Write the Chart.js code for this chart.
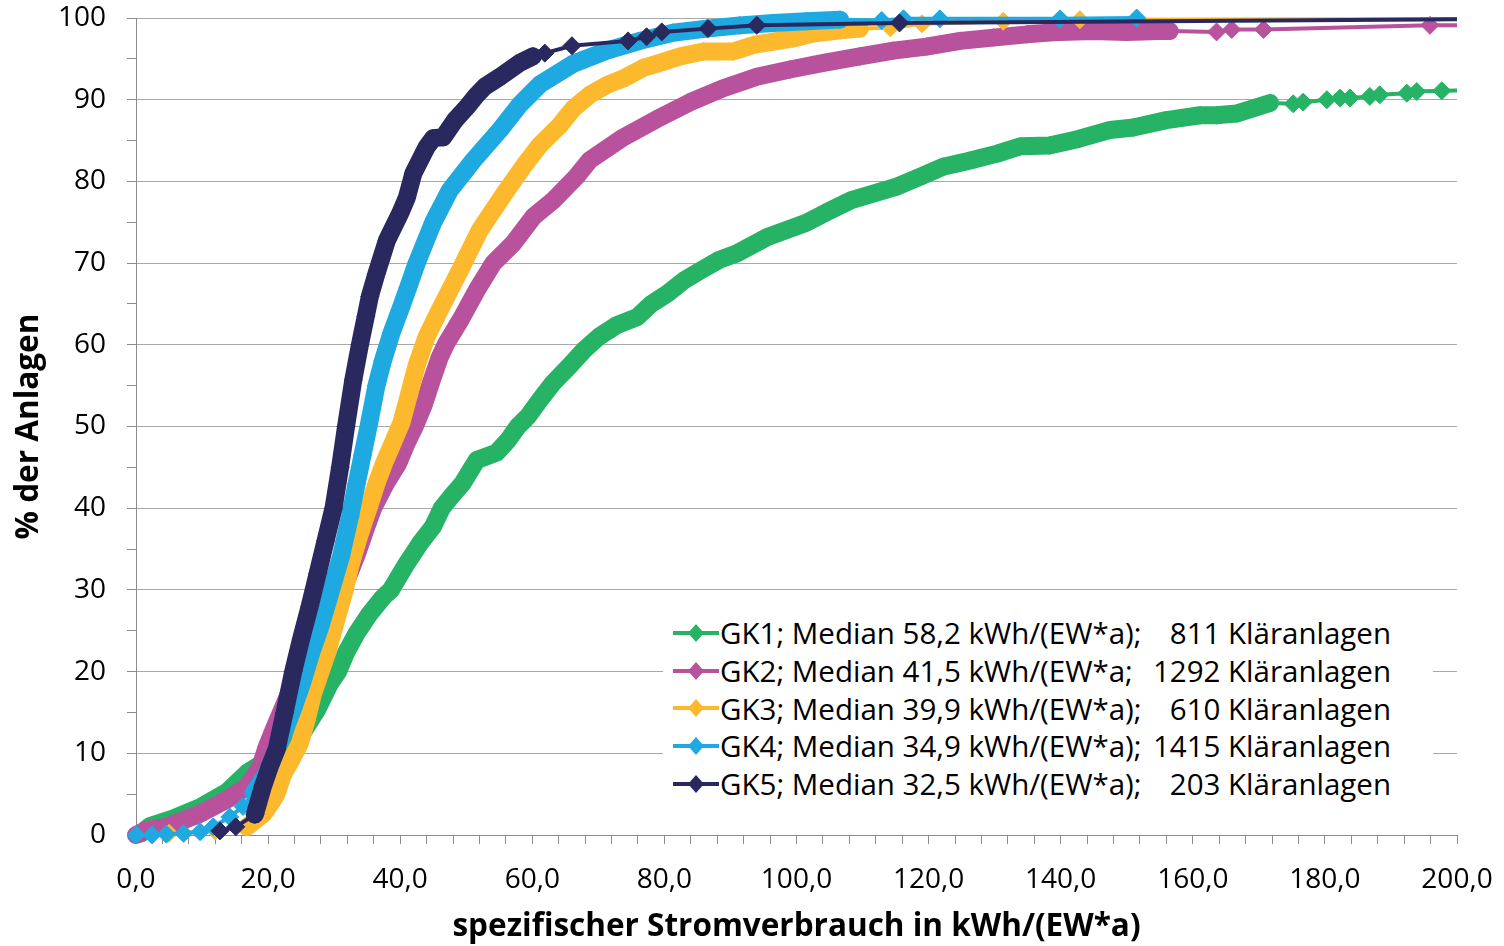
<!DOCTYPE html>
<html lang="de">
<head>
<meta charset="utf-8">
<title>Spezifischer Stromverbrauch</title>
<script src="https://cdn.jsdelivr.net/npm/chart.js@4.4.1/dist/chart.umd.min.js"></script>
<style>
  body { margin: 0; background: #fff; }
  #wrap { position: relative; width: 1504px; height: 946px; }
  #legend {
    position: absolute; left: 663px; top: 605px; width: 770px; height: 200px;
    background: #fff; box-sizing: border-box; padding: 9px 42px 0 0;
    font-family: "Open Sans", sans-serif; font-size: 29.5px; color: #000;
  }
  .row { display: flex; align-items: center; height: 37.7px; white-space: nowrap; }
  .row svg { margin-left: 10px; margin-right: 1px; flex: none; }
  .count { margin-left: auto; }
</style>
</head>
<body>
<div id="wrap">
  <canvas id="chart" width="1504" height="946"></canvas>
  <div id="legend"></div>
</div>
<script>
// cumulative share of plants [%] over specific consumption [kWh/(EW*a)]
const gk1 = [
  [0.8, 0.2], [2.1, 1.1], [5.6, 2.0], [9.7, 3.4], [13.8, 5.3], [16.8, 7.6], [20.5, 9.5],
  [23.8, 11.2], [25.3, 12.6], [27.4, 15.3], [29.4, 18.6], [30.6, 20.0], [31.8, 22.3],
  [33.4, 24.7], [35.4, 27.1], [37.4, 29.1], [38.6, 30.0], [40.8, 33.0], [43.0, 35.7],
  [45.0, 37.8], [46.3, 40.0], [47.8, 41.5], [49.4, 43.0], [51.6, 45.9], [54.6, 46.8],
  [56.3, 48.3], [57.8, 50.0], [59.3, 51.2], [61.2, 53.3], [63.1, 55.3], [65.5, 57.3],
  [68.0, 59.5], [70.1, 61.0], [72.8, 62.4], [75.9, 63.4], [78.0, 65.0], [80.5, 66.3],
  [83.0, 67.9], [85.7, 69.2], [88.3, 70.4], [91.0, 71.2], [95.6, 73.2], [101.4, 74.9],
  [104.5, 76.2], [108.3, 77.7], [115.3, 79.4], [118.8, 80.6], [122.2, 81.8], [126.0, 82.5],
  [130.4, 83.4], [133.9, 84.3], [138.3, 84.4], [142.7, 85.2], [147.5, 86.3], [151.0, 86.6],
  [156.0, 87.5], [161.1, 88.1], [163.6, 88.1], [166.6, 88.3], [171.7, 89.6], [175.2, 89.5],
  [176.7, 89.7], [180.3, 90.0], [182.3, 90.2], [183.8, 90.2], [186.8, 90.4], [188.3, 90.6],
  [192.4, 90.8], [193.9, 91.0], [197.7, 91.1], [212.0, 91.3]
];
const gk2 = [
  [0.0, 0.0], [1.5, 0.6], [4.6, 1.0], [9.7, 2.6], [13.7, 4.3], [16.8, 5.9], [18.8, 8.3],
  [19.8, 10.8], [20.8, 12.8], [23.0, 17.0], [25.5, 21.5], [28.0, 25.5], [30.0, 28.5],
  [31.8, 31.0], [33.5, 34.5], [35.0, 38.0], [35.9, 40.0], [37.8, 43.0], [39.7, 45.5],
  [41.0, 48.0], [42.2, 50.0], [43.5, 52.5], [44.8, 55.7], [46.0, 58.5], [47.0, 60.2],
  [49.1, 63.0], [51.6, 66.7], [54.1, 70.0], [57.1, 72.4], [60.2, 75.7], [63.2, 77.7],
  [66.7, 80.6], [68.7, 82.6], [73.8, 85.4], [78.8, 87.6], [83.9, 89.7], [88.9, 91.4],
  [94.0, 92.8], [99.0, 93.7], [104.1, 94.5], [109.6, 95.3], [114.7, 96.0], [119.7, 96.5],
  [124.8, 97.2], [129.8, 97.6], [134.9, 98.0], [139.9, 98.3], [144.9, 98.4], [150.0, 98.3],
  [155.0, 98.4], [156.5, 98.4], [163.6, 98.3], [165.9, 98.6], [170.7, 98.6], [195.9, 99.1],
  [215.0, 99.2]
];
const gk3 = [
  [5.0, 0.2], [12.0, 0.5], [16.8, 1.0], [19.3, 2.6], [20.5, 4.0], [21.3, 5.1], [22.3, 7.5],
  [23.4, 9.0], [24.8, 11.2], [25.8, 14.0], [26.8, 17.3], [28.9, 22.2], [30.9, 28.0],
  [31.6, 30.0], [32.4, 32.8], [33.9, 36.9], [35.2, 40.0], [36.4, 43.0], [37.7, 45.8],
  [39.0, 48.2], [40.2, 50.5], [41.2, 53.5], [42.5, 57.5], [44.0, 61.0], [46.0, 64.3],
  [49.1, 69.2], [52.1, 74.1], [56.1, 78.9], [58.8, 82.0], [61.2, 84.5], [64.2, 86.9],
  [66.2, 88.9], [68.7, 90.6], [71.3, 91.8], [73.8, 92.6], [76.8, 93.9], [79.3, 94.5],
  [82.4, 95.3], [85.9, 95.9], [90.4, 95.9], [93.5, 96.7], [96.5, 97.1], [99.5, 97.5],
  [102.5, 98.1], [106.6, 98.5], [109.6, 98.7], [114.2, 98.8], [119.0, 99.3], [131.3, 99.6],
  [142.9, 99.8], [215.0, 99.9]
];
const gk4 = [
  [0.0, 0.0], [2.4, 0.0], [4.6, 0.1], [7.2, 0.2], [9.7, 0.4], [11.7, 1.0], [14.2, 2.2],
  [16.2, 3.5], [17.8, 5.1], [19.8, 7.5], [21.3, 10.5], [22.6, 13.0], [23.8, 15.5],
  [25.3, 19.0], [26.6, 22.5], [27.9, 25.5], [29.0, 28.5], [29.9, 31.0], [31.0, 34.0],
  [32.4, 39.0], [33.4, 43.0], [34.3, 46.5], [35.2, 50.0], [36.4, 55.0], [37.4, 58.1],
  [38.7, 61.5], [40.0, 64.3], [41.2, 67.0], [42.5, 70.0], [45.0, 75.0], [47.5, 78.9],
  [51.1, 82.6], [55.1, 86.3], [58.0, 89.3], [61.2, 91.9], [66.2, 94.4], [71.3, 96.0],
  [76.3, 97.2], [81.3, 98.2], [86.4, 98.7], [91.4, 99.1], [96.5, 99.4], [101.5, 99.6],
  [106.6, 99.8], [112.9, 99.7], [116.2, 99.9], [121.7, 99.9], [139.9, 99.9], [151.5, 100.0]
];
const gk5 = [
  [12.7, 0.5], [15.1, 1.0], [18.0, 2.5], [19.2, 5.9], [20.3, 8.5], [21.3, 10.5],
  [22.5, 15.0], [23.8, 20.0], [25.0, 24.0], [26.3, 28.0], [27.5, 32.0], [28.7, 36.0],
  [29.9, 40.0], [30.9, 45.0], [31.8, 50.0], [32.9, 55.7], [33.9, 60.0], [34.8, 63.5],
  [35.4, 65.9], [36.4, 68.7], [38.0, 72.8], [40.0, 76.1], [41.0, 78.0], [42.0, 81.0],
  [44.0, 84.2], [45.0, 85.3], [46.5, 85.4], [48.3, 87.5], [50.1, 89.1], [51.5, 90.5],
  [52.8, 91.6], [55.1, 92.8], [58.1, 94.5], [60.1, 95.3], [61.9, 95.7], [66.0, 96.6],
  [74.5, 97.2], [77.3, 97.7], [79.6, 98.3], [86.6, 98.7], [94.0, 99.1], [115.6, 99.4],
  [230.0, 100.0]
];

const seriesLabels = [
  "GK1; Median 58,2 kWh/(EW*a);",
  "GK2; Median 41,5 kWh/(EW*a;",
  "GK3; Median 39,9 kWh/(EW*a);",
  "GK4; Median 34,9 kWh/(EW*a);",
  "GK5; Median 32,5 kWh/(EW*a);"
];
const plantCounts = [811, 1292, 610, 1415, 203];

const xTitle = "spezifischer Stromverbrauch in kWh/(EW*a)";
const yTitle = "% der Anlagen";

const colors = ["#27b365", "#b9529d", "#fdb92e", "#1fa9e1", "#29285f"];
// x-range where the markers are so dense that they merge into one thick band
const bands = [[0.8, 172], [0, 156.5], [16.8, 109.6], [17.8, 106.6], [18.0, 60.1]];

const series = [gk1, gk2, gk3, gk4, gk5];
const axisColor = "#8c8c8c";
const gridColor = "#a8a8a8";
const family = '"Open Sans", sans-serif';

const datasets = series.map((pts, i) => ({
  label: seriesLabels[i],
  data: pts.map(([x, y]) => ({ x, y })),
  borderColor: colors[i],
  backgroundColor: colors[i],
  borderWidth: 4,
  borderCapStyle: "round",
  borderJoinStyle: "round",
  pointStyle: "rectRot",
  pointRadius: 9,
  pointBorderWidth: 1,
  pointBackgroundColor: colors[i],
  pointBorderColor: colors[i],
  order: series.length - i, // GK5 on top, like the original
  clip: { left: 12, top: 12, right: 0, bottom: 12 },
  segment: {
    borderWidth: (ctx) => {
      const a = pts[ctx.p0DataIndex][0];
      const b = pts[ctx.p1DataIndex][0];
      return a >= bands[i][0] && b <= bands[i][1] ? 18 : 4;
    }
  }
}));

new Chart(document.getElementById("chart"), {
  type: "line",
  data: { datasets },
  options: {
    responsive: false,
    devicePixelRatio: 1,
    animation: false,
    events: [],
    layout: { padding: { top: 18, right: 47, bottom: 0, left: 0 } },
    plugins: { legend: { display: false }, tooltip: { enabled: false } },
    scales: {
      x: {
        type: "linear",
        min: 0,
        max: 200,
        afterFit: (s) => { s.height = 111; s.paddingLeft = 0; s.paddingRight = 0; },
        border: { color: axisColor, width: 1 },
        grid: { drawOnChartArea: false, tickLength: 9, tickColor: axisColor },
        ticks: {
          stepSize: 4,
          autoSkip: false,
          maxTicksLimit: 100,
          maxRotation: 0,
          padding: 19,
          color: "#000",
          font: { family, size: 28 },
          callback: (v) => (v % 20 === 0 ? v.toFixed(1).replace(".", ",") : "")
        },
        title: {
          display: true,
          text: xTitle,
          color: "#000",
          font: { family, size: 31.5, weight: "bold" },
          padding: 0
        }
      },
      y: {
        min: 0,
        max: 100,
        afterFit: (s) => { s.width = 136; s.paddingTop = 0; s.paddingBottom = 0; },
        border: { color: axisColor, width: 1 },
        grid: {
          color: (c) => (c.tick && c.tick.value % 10 === 0 ? gridColor : "rgba(0,0,0,0)"),
          tickColor: axisColor,
          tickLength: 9
        },
        ticks: {
          stepSize: 5,
          padding: 21,
          color: "#000",
          font: { family, size: 28 },
          callback: (v) => (v % 10 === 0 ? String(v) : "")
        },
        title: {
          display: true,
          text: yTitle,
          color: "#000",
          font: { family, size: 31.5, weight: "bold" },
          padding: { top: 10 }
        }
      }
    }
  }
});

// legend sits inside the plot, bottom right, on a white box
document.getElementById("legend").innerHTML = seriesLabels
  .map(
    (label, i) => `<div class="row">
      <svg width="46" height="20"><line x1="0" y1="10" x2="46" y2="10" stroke="${colors[i]}" stroke-width="4"/><polygon points="23,1 31,10 23,19 15,10" fill="${colors[i]}"/></svg>
      <span>${label}</span><span class="count">${plantCounts[i]} Kläranlagen</span>
    </div>`
  )
  .join("");
</script>
</body>
</html>
